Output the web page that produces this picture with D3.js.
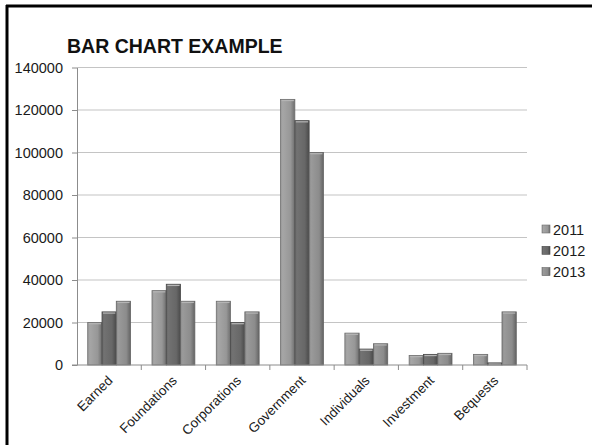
<!DOCTYPE html>
<html>
<head>
<meta charset="utf-8">
<script src="https://cdn.jsdelivr.net/npm/d3@7"></script>
<style>
  html, body { margin: 0; padding: 0; background: #fff; }
  svg { display: block; font-family: "Liberation Sans", Arial, sans-serif; }
</style>
</head>
<body>
<svg id="chart" width="592" height="445"></svg>
<script>
// Funding sources by year
const categories = ["Earned", "Foundations", "Corporations", "Government", "Individuals", "Investment", "Bequests"];
const years = ["2011", "2012", "2013"];
const values2011 = [20000, 35000, 30000, 125000, 15000, 4500, 5000];
const values2012 = [25000, 38000, 20000, 115000, 7500, 5000, 1000];
const values2013 = [30000, 30000, 25000, 100000, 10000, 5500, 25000];
const yTicks = [0, 20000, 40000, 60000, 80000, 100000, 120000, 140000];

const seriesValues = [values2011, values2012, values2013];
const svg = d3.select("#chart");

// frame (top and left edges)
svg.append("line").attr("x1", 6).attr("x2", 592).attr("y1", 6).attr("y2", 6)
  .attr("stroke", "#000").attr("stroke-width", 3);
svg.append("line").attr("x1", 7).attr("x2", 7).attr("y1", 5).attr("y2", 445)
  .attr("stroke", "#000").attr("stroke-width", 3);

const plotLeft = 77, plotRight = 527, plotTop = 67.5, plotBottom = 365;

const x0 = d3.scaleBand().domain(categories).range([plotLeft, plotRight]).padding(0);
const x1 = d3.scaleBand().domain(years).range([0, x0.bandwidth()]).paddingInner(0).paddingOuter(0.75);
const y = d3.scaleLinear().domain([0, 140000]).range([plotBottom, plotTop]);

// bar gradients
const defs = svg.append("defs");
const shades = [
  { dark: "#6e6e6e", mid: "#979797", light: "#a6a6a6" },
  { dark: "#4a4a4a", mid: "#676767", light: "#727272" },
  { dark: "#646464", mid: "#8c8c8c", light: "#9a9a9a" }
];
shades.forEach((s, i) => {
  const g = defs.append("linearGradient").attr("id", "grad" + i)
    .attr("x1", "0%").attr("x2", "100%").attr("y1", "0%").attr("y2", "0%");
  g.append("stop").attr("offset", "0%").attr("stop-color", s.mid);
  g.append("stop").attr("offset", "15%").attr("stop-color", s.light);
  g.append("stop").attr("offset", "70%").attr("stop-color", s.mid);
  g.append("stop").attr("offset", "100%").attr("stop-color", s.dark);
});

// gridlines
svg.append("g").selectAll("line").data(yTicks.filter(d => d > 0)).join("line")
  .attr("x1", plotLeft).attr("x2", plotRight)
  .attr("y1", d => y(d)).attr("y2", d => y(d))
  .attr("stroke", "#c4c4c4").attr("stroke-width", 1.2);

// y axis
const yAxis = svg.append("g").attr("transform", `translate(${plotLeft},0)`)
  .call(d3.axisLeft(y).tickValues(yTicks).tickFormat(d3.format("d")).tickSize(5).tickSizeOuter(0).tickPadding(9));
yAxis.select(".domain").attr("stroke", "#8c8c8c");
yAxis.selectAll(".tick line").attr("stroke", "#8c8c8c");
yAxis.selectAll("text").attr("font-size", "14.5px").attr("fill", "#1a1a1a")
  .attr("font-family", "'Liberation Sans', Arial, sans-serif");

// bars
const groups = svg.append("g").selectAll("g").data(categories).join("g")
  .attr("transform", d => `translate(${x0(d)},0)`);
const barData = (c, ci) => years.map((yr, si) => ({ yr, si, v: seriesValues[si][ci] }));
groups.selectAll("rect").data(barData)
  .join("rect")
  .attr("x", d => x1(d.yr))
  .attr("y", d => y(d.v))
  .attr("width", x1.bandwidth())
  .attr("height", d => y(0) - y(d.v))
  .attr("fill", d => `url(#grad${d.si})`)
  .attr("stroke", d => shades[d.si].dark)
  .attr("stroke-width", 0.8);
// top bevel highlight
groups.selectAll("line.cap").data(barData)
  .join("line").attr("class", "cap")
  .attr("x1", d => x1(d.yr) + 1).attr("x2", d => x1(d.yr) + x1.bandwidth() - 1)
  .attr("y1", d => y(d.v) + 1.2).attr("y2", d => y(d.v) + 1.2)
  .attr("stroke", "#b5b5b5").attr("stroke-width", 1.2);

// x axis
const xAxis = svg.append("g").attr("transform", `translate(0,${plotBottom})`);
xAxis.append("line").attr("x1", plotLeft - 5).attr("x2", plotRight).attr("y1", 0).attr("y2", 0)
  .attr("stroke", "#8c8c8c");
const boundaries = categories.map(c => x0(c) + x0.bandwidth());
xAxis.selectAll("line.tick").data(boundaries).join("line").attr("class", "tick")
  .attr("x1", d => d).attr("x2", d => d).attr("y1", 0).attr("y2", 5)
  .attr("stroke", "#8c8c8c");
xAxis.selectAll("text").data(categories).join("text")
  .attr("transform", d => `translate(${x0(d) + x0.bandwidth() / 2 + 1},${13}) rotate(-45)`)
  .attr("text-anchor", "end")
  .attr("dy", "0.35em")
  .attr("font-size", "13.5px").attr("fill", "#1a1a1a")
  .text(d => d);

// title
svg.append("text").attr("x", 67).attr("y", 53)
  .attr("font-size", "19.5px").attr("font-weight", "bold").attr("fill", "#111")
  .text("BAR CHART EXAMPLE");

// legend
const legend = svg.append("g").attr("transform", "translate(542,225)");
const items = legend.selectAll("g").data(years).join("g")
  .attr("transform", (d, i) => `translate(0,${i * 21.3})`);
items.append("rect").attr("width", 8).attr("height", 8)
  .attr("fill", (d, i) => `url(#grad${i})`).attr("stroke", (d, i) => shades[i].dark).attr("stroke-width", 0.6);
items.append("text").attr("x", 11).attr("y", 9.5)
  .attr("font-size", "14.5px").attr("fill", "#1a1a1a").text(d => d);
</script>
</body>
</html>
